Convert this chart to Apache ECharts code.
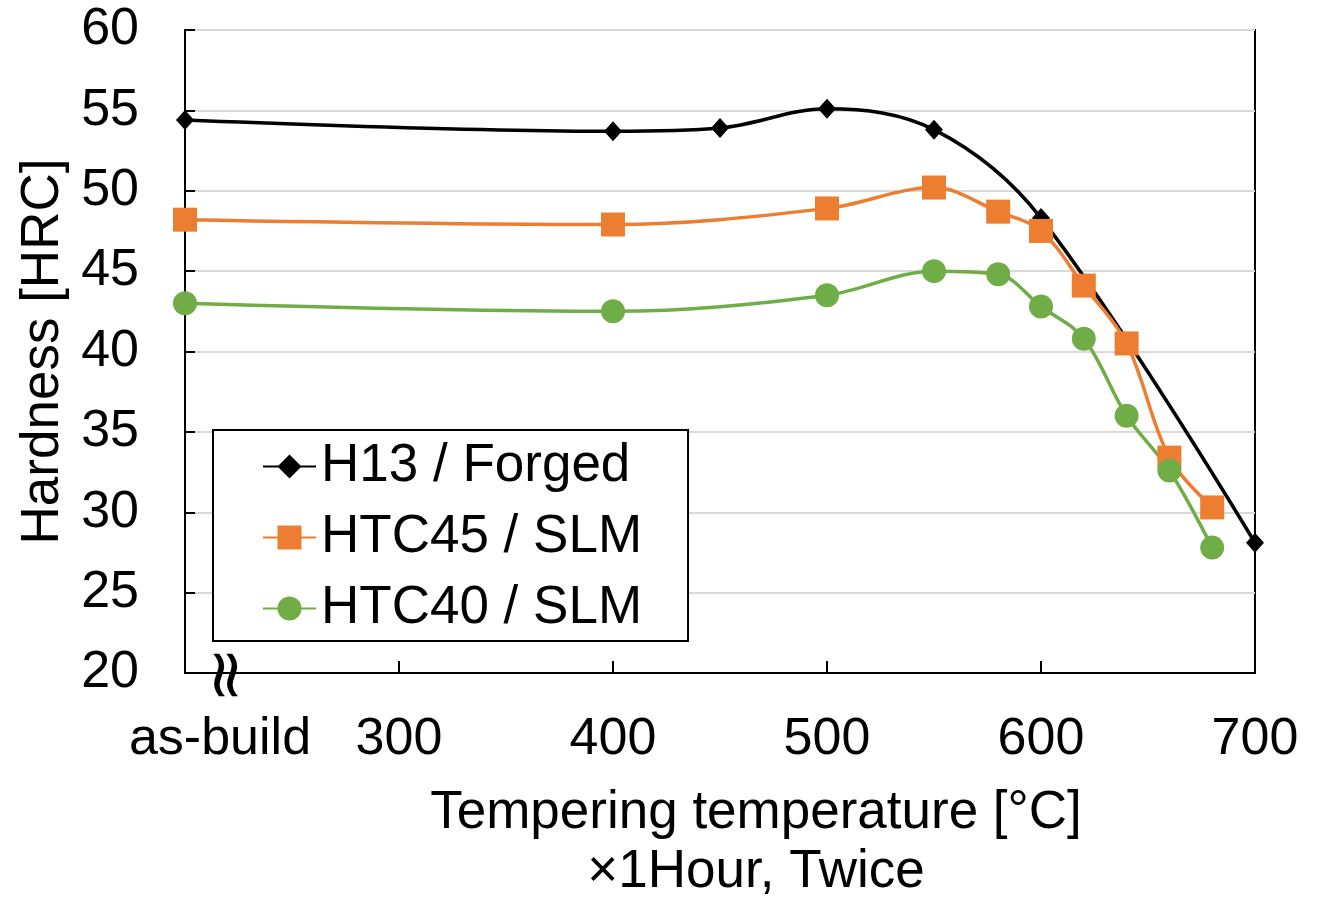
<!DOCTYPE html>
<html>
<head>
<meta charset="utf-8">
<script src="https://cdn.jsdelivr.net/npm/echarts@6/dist/echarts.min.js"></script>
<style>
  html, body { margin: 0; padding: 0; background: #fff; }
  #hardness { width: 1322px; height: 898px; }
</style>
</head>
<body>
<div id="hardness"></div>
<script>
// tempering temperature (200 = as-build)
const xTicks = [200, 300, 400, 500, 600, 700]
const h13Temp = [200, 400, 450, 500, 550, 600, 700]
const h13Hard = [54.4, 53.7, 53.9, 55.1, 53.8, 48.3, 28.1]
const slmTemp = [200, 400, 500, 550, 580, 600, 620, 640, 660, 680]
const htc45Hard = [48.2, 47.9, 48.9, 50.2, 48.7, 47.5, 44.1, 40.5, 33.4, 30.3]
const htc40Hard = [43.0, 42.5, 43.5, 45.0, 44.8, 42.8, 40.8, 36.0, 32.6, 27.8]
const seriesNames = ['H13 / Forged', 'HTC45 / SLM', 'HTC40 / SLM']

const font = 'Liberation Sans'
const zip = (xs, ys) => xs.map((x, i) => [x, ys[i]])

const chart = echarts.init(document.getElementById('hardness'))
const option = {
  animation: false,
  grid: {
    left: 185,
    right: 67,
    top: 30,
    bottom: 225,
    outerBoundsMode: 'none',
    containLabel: false,
    show: true,
    borderColor: '#000',
    borderWidth: 2,
  },
  legend: {
    orient: 'vertical',
    left: 213,
    top: 430,
    padding: [10, 46, 6, 49],
    itemGap: 18,
    itemWidth: 53,
    itemHeight: 30,
    borderColor: '#000',
    borderWidth: 2,
    backgroundColor: '#fff',
    data: seriesNames,
    textStyle: { fontFamily: font, fontSize: 53, color: '#000' },
  },
  xAxis: {
    type: 'value',
    min: 200,
    max: 700,
    interval: 100,
    name: 'Tempering temperature [°C]\n×1Hour, Twice',
    nameLocation: 'middle',
    nameGap: 111,
    nameTextStyle: {
      fontFamily: font,
      fontSize: 53,
      color: '#000',
      lineHeight: 59,
      padding: [0, 0, 0, 72],
    },
    axisLine: { lineStyle: { color: '#000', width: 2 } },
    axisTick: { inside: true, length: 12, lineStyle: { color: '#000', width: 2 } },
    splitLine: { show: false },
    axisLabel: {
      margin: 41,
      fontFamily: font,
      fontSize: 52,
      color: '#000',
      formatter: function (v) {
        return v === xTicks[0] ? '{ab|as-build}' : String(v)
      },
      rich: {
        ab: { fontFamily: font, fontSize: 52, color: '#000', padding: [0, 0, 0, 70] },
      },
    },
  },
  yAxis: {
    type: 'value',
    min: 20,
    max: 60,
    interval: 5,
    name: 'Hardness [HRC]',
    nameLocation: 'middle',
    nameGap: 110,
    nameTextStyle: { fontFamily: font, fontSize: 53, color: '#000' },
    axisLine: { show: true, lineStyle: { color: '#000', width: 2 } },
    axisTick: { show: true, inside: true, length: 10, lineStyle: { color: '#000', width: 2 } },
    splitLine: { lineStyle: { color: '#d9d9d9', width: 2 } },
    axisLabel: { margin: 46, fontFamily: font, fontSize: 52, color: '#000' },
  },
  graphic: [
    {
      // axis break mark
      type: 'text',
      x: 229,
      y: 675,
      rotation: Math.PI / 2,
      z: 100,
      style: {
        text: '≈',
        fontFamily: 'DejaVu Sans',
        fontSize: 68,
        fill: '#000',
        align: 'center',
        verticalAlign: 'middle',
      },
    },
  ],
  series: [
    {
      name: seriesNames[0],
      type: 'line',
      smooth: 0.35,
      data: zip(h13Temp, h13Hard),
      symbol: 'diamond',
      symbolSize: [18, 20],
      lineStyle: { color: '#000', width: 3.5 },
      itemStyle: { color: '#000' },
    },
    {
      name: seriesNames[1],
      type: 'line',
      smooth: 0.35,
      data: zip(slmTemp, htc45Hard),
      symbol: 'rect',
      symbolSize: 24,
      lineStyle: { color: '#ed7d31', width: 3.5 },
      itemStyle: { color: '#ed7d31' },
    },
    {
      name: seriesNames[2],
      type: 'line',
      smooth: 0.35,
      data: zip(slmTemp, htc40Hard),
      symbol: 'circle',
      symbolSize: 24,
      lineStyle: { color: '#70ad47', width: 3.5 },
      itemStyle: { color: '#70ad47' },
    },
  ],
}
chart.setOption(option)
</script>
</body>
</html>
